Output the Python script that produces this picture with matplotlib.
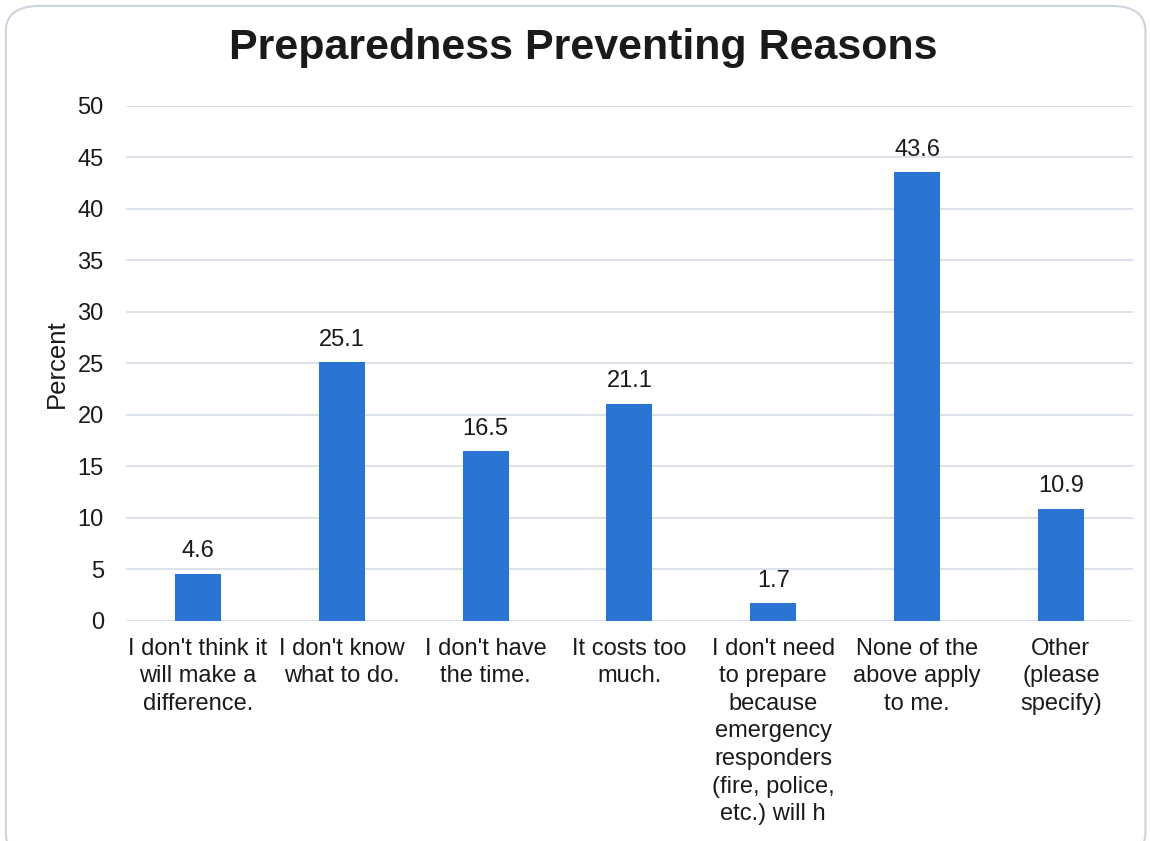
import numpy as np
import matplotlib.pyplot as plt
from matplotlib.patches import FancyBboxPatch

plt.rcParams['font.family'] = ['Liberation Sans', 'DejaVu Sans']

categories = ["I don't think it\nwill make a\ndifference.",
              "I don't know\nwhat to do.",
              "I don't have\nthe time.",
              "It costs too\nmuch.",
              "I don't need\nto prepare\nbecause\nemergency\nresponders\n(fire, police,\netc.) will h",
              "None of the\nabove apply\nto me.",
              "Other\n(please\nspecify)"]
values = [4.6, 25.1, 16.5, 21.1, 1.7, 43.6, 10.9]
yticks = [0, 5, 10, 15, 20, 25, 30, 35, 40, 45, 50]

fig = plt.figure(figsize=(11.5, 8.41), dpi=100)
ax = fig.add_axes([0.1096, 0.2616, 0.8754, 0.6124])

# rounded frame round the whole chart, cut at the bottom like the scan
frame = FancyBboxPatch((0.005, -0.02), 0.991, 1.013, boxstyle='round,pad=0,rounding_size=0.03',
                       transform=fig.transFigure, facecolor='none', edgecolor='#cbd5e0',
                       linewidth=1.5, zorder=0)
fig.patches.append(frame)

x = np.arange(len(values))
ax.bar(x, values, width=0.32, color='#2a75d3', zorder=3)

for xi, v in zip(x, values):
    ax.text(xi, v + 1.1, f'{v}', ha='center', va='bottom', fontsize=17, color='#1a1a1a')

ax.set_xlim(-0.5, len(values) - 0.5)
ax.set_ylim(0, 50)
ax.set_yticks(yticks)
ax.set_xticks(x)
ax.set_xticklabels(categories, fontsize=17, linespacing=1.33, color='#1a1a1a')
ax.tick_params(axis='y', labelsize=17, length=0, pad=16, labelcolor='#1a1a1a')
ax.tick_params(axis='x', length=0, pad=12)
ax.yaxis.grid(True, color='#d5dde8', linewidth=1.2, zorder=0)
for s in ax.spines.values():
    s.set_visible(False)

ax.set_ylabel('Percent', fontsize=18.5, labelpad=6, color='#1a1a1a')
fig.text(0.507, 0.943, 'Preparedness Preventing Reasons', ha='center', va='center',
         fontsize=31, fontweight='bold', color='#1a1a1a')

fig.savefig('out.png', dpi=100)
